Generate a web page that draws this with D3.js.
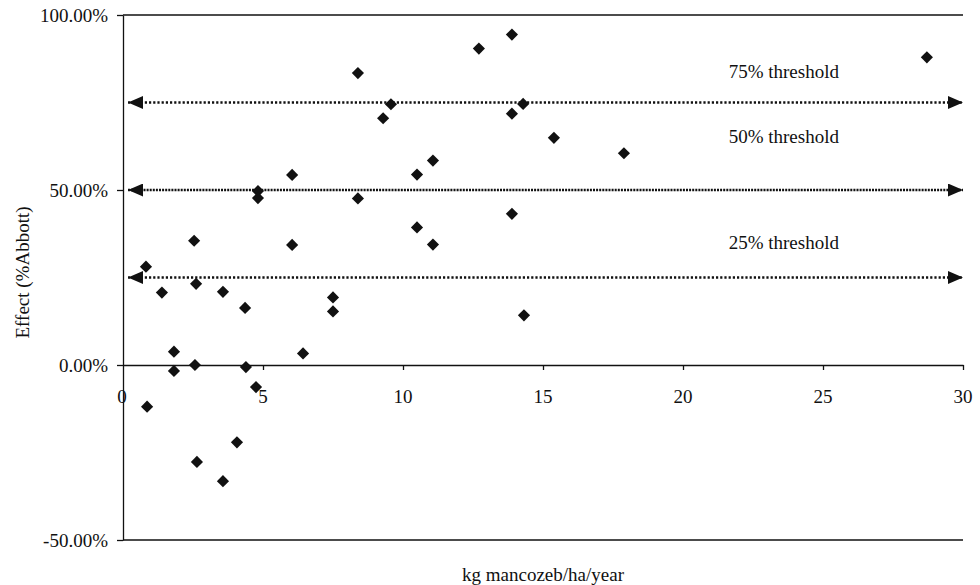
<!DOCTYPE html>
<html>
<head>
<meta charset="utf-8">
<script src="https://cdn.jsdelivr.net/npm/d3@7/dist/d3.min.js"></script>
<style>
  html, body { margin: 0; padding: 0; background: #fff; }
  svg { display: block; font-family: "Liberation Serif", "Times New Roman", serif; }
</style>
</head>
<body>
<svg id="chart" width="980" height="585"></svg>
<script>
// Mancozeb dose (kg/ha/year) and observed effect (fraction, Abbott)
const doses = [
  0.82, 1.39, 1.82, 1.82, 2.54, 2.61, 2.57, 3.57, 4.36, 4.39, 4.75, 4.82, 4.82,
  6.04, 6.04, 6.43, 0.86, 2.64, 3.57, 4.07, 8.39, 9.29, 9.57, 10.5, 11.07,
  12.71, 13.89, 13.89, 14.29, 15.39, 17.89, 8.39, 10.5, 11.07, 13.89, 7.5, 7.5,
  14.32, 28.71
];
const effects = [
  0.281, 0.207, 0.038, -0.017, 0.355, 0.232, 0.000, 0.209, 0.163, -0.006, -0.063, 0.497, 0.477,
  0.343, 0.543, 0.033, -0.119, -0.277, -0.332, -0.221, 0.834, 0.705, 0.745, 0.544, 0.584,
  0.904, 0.944, 0.718, 0.746, 0.649, 0.605, 0.476, 0.393, 0.344, 0.432, 0.193, 0.153,
  0.142, 0.879
];

// Axis ticks
const xTicks = [0, 5, 10, 15, 20, 25, 30];
const xTickLabels = ["0", "5", "10", "15", "20", "25", "30"];
const yTicks = [-0.5, 0, 0.5, 1];
const yTickLabels = ["-50.00%", "0.00%", "50.00%", "100.00%"];

// Threshold reference lines
const thresholds = [0.25, 0.5, 0.75];
const thresholdLabels = ["25% threshold", "50% threshold", "75% threshold"];
const thresholdLabelY = [0.35, 0.654, 0.84];
const thresholdLabelX = 23.6;

const svg = d3.select("#chart");
const margin = { left: 123, right: 17, top: 15, bottom: 45 };
const W = 980, H = 585;

const x = d3.scaleLinear().domain([0, 30]).range([margin.left, W - margin.right]);
const y = d3.scaleLinear().domain([-0.5, 1]).range([H - margin.bottom, margin.top]);

const ink = "#111";
const fontSize = 19;

// Frame lines at the top and bottom of the value range
svg.append("g").selectAll("line")
  .data([1, -0.5])
  .join("line")
  .attr("x1", x(0)).attr("x2", x(30))
  .attr("y1", d => y(d)).attr("y2", d => y(d))
  .attr("stroke", ink).attr("stroke-width", 1.3);

// Y axis
const yAxis = d3.axisLeft(y)
  .tickValues(yTicks)
  .tickFormat((d, i) => yTickLabels[i])
  .tickSizeInner(6).tickSizeOuter(0).tickPadding(9);
const gy = svg.append("g").attr("transform", `translate(${x(0)},0)`).call(yAxis);
gy.select(".domain").attr("stroke", ink).attr("stroke-width", 1.3);
gy.selectAll(".tick line").attr("stroke", ink).attr("stroke-width", 1.3);
gy.selectAll("text").attr("fill", ink).style("font-size", fontSize + "px")
  .style("font-family", "'Liberation Serif', serif");

// X axis crossing at zero effect
const xAxis = d3.axisBottom(x)
  .tickValues(xTicks.slice(1))
  .tickFormat(() => "")
  .tickSizeInner(5).tickSizeOuter(0);
const gx = svg.append("g").attr("transform", `translate(0,${y(0)})`).call(xAxis);
gx.select(".domain").attr("stroke", ink).attr("stroke-width", 1.3);
gx.selectAll(".tick line").attr("stroke", ink).attr("stroke-width", 1.3);

// X tick labels sit below the zero line
svg.append("g").selectAll("text")
  .data(xTicks)
  .join("text")
  .attr("x", d => x(d) - (d === 0 ? 1 : 0))
  .attr("y", y(0) + 31)
  .attr("dy", "0.35em")
  .attr("text-anchor", "middle")
  .attr("fill", ink)
  .style("font-size", fontSize + "px")
  .text((d, i) => xTickLabels[i]);

// Arrowhead markers
const defs = svg.append("defs");
["start", "end"].forEach(kind => {
  defs.append("marker")
    .attr("id", "arrow-" + kind)
    .attr("viewBox", "0 0 15 13")
    .attr("refX", kind === "end" ? 15 : 0)
    .attr("refY", 6.5)
    .attr("markerWidth", 15).attr("markerHeight", 13)
    .attr("markerUnits", "userSpaceOnUse")
    .attr("orient", "auto")
    .append("path")
    .attr("d", kind === "end" ? "M0,0L15,6.5L0,13Z" : "M15,0L0,6.5L15,13Z")
    .attr("fill", ink);
});

// Dotted threshold lines with arrows at both ends
const thr = svg.append("g");
thresholds.forEach((t, i) => {
  thr.append("line")
    .attr("x1", x(0) + 5).attr("x2", x(30))
    .attr("y1", y(t)).attr("y2", y(t))
    .attr("stroke", ink)
    .attr("stroke-width", 2.6)
    .attr("stroke-dasharray", t === 0.5 ? "2,1.1" : "2.2,2")
    .attr("marker-start", "url(#arrow-start)")
    .attr("marker-end", "url(#arrow-end)");
  thr.append("text")
    .attr("x", x(thresholdLabelX))
    .attr("y", y(thresholdLabelY[i]))
    .attr("dy", "0.35em")
    .attr("text-anchor", "middle")
    .attr("fill", ink)
    .style("font-size", fontSize + "px")
    .text(thresholdLabels[i]);
});

// Data points as diamonds
const diamond = d3.symbol().type(d3.symbolSquare).size(74);
svg.append("g").selectAll("path")
  .data(doses.map((d, i) => ({ dose: d, effect: effects[i] })))
  .join("path")
  .attr("d", diamond)
  .attr("transform", d => `translate(${x(d.dose)},${y(d.effect)}) rotate(45)`)
  .attr("fill", ink);

// Axis titles
svg.append("text")
  .attr("x", (x(0) + x(30)) / 2)
  .attr("y", 574)
  .attr("dy", "0.35em")
  .attr("text-anchor", "middle")
  .attr("fill", ink)
  .style("font-size", fontSize + "px")
  .text("kg mancozeb/ha/year");

svg.append("text")
  .attr("transform", `translate(22,${(y(1) + y(-0.5)) / 2 - 5}) rotate(-90)`)
  .attr("dy", "0.35em")
  .attr("text-anchor", "middle")
  .attr("fill", ink)
  .style("font-size", fontSize + "px")
  .text("Effect (%Abbott)");
</script>
</body>
</html>
